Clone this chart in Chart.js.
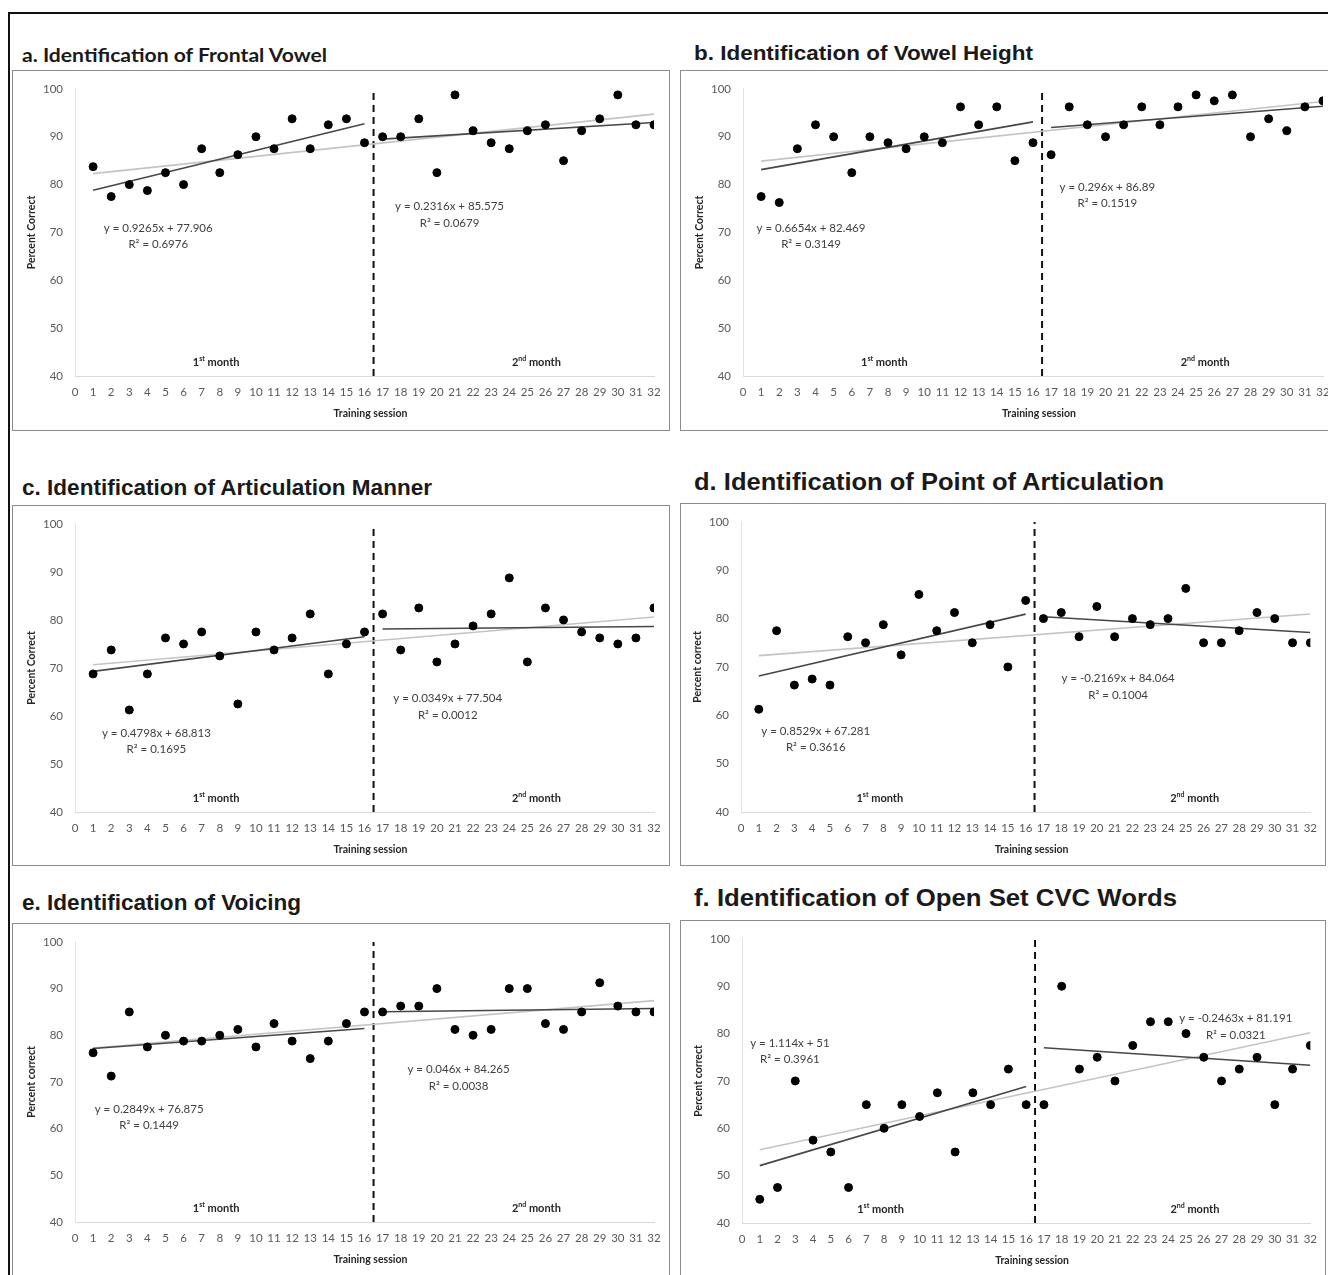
<!DOCTYPE html>
<html>
<head>
<meta charset="utf-8">
<script src="https://cdn.jsdelivr.net/npm/chart.js@4.4.1/dist/chart.umd.min.js"></script>
<style>
html, body { margin: 0; padding: 0; background: #fff; }
body { width: 1328px; height: 1275px; overflow: hidden; position: relative; }
.frame { position: absolute; left: 8px; top: 12px; width: 1400px; height: 1400px; border: 2px solid #111; box-sizing: border-box; }
.box { position: absolute; border: 1.5px solid #8c8c8c; box-sizing: border-box; }
.ttl { position: absolute; white-space: nowrap; font-weight: bold; color: #1a1a1a; transform-origin: 0 50%; }
canvas { position: absolute; }
</style>
</head>
<body>
<div class="frame"></div>
<script>
// training sessions (x axis)
const sessions = [1, 2, 3, 4, 5, 6, 7, 8, 9, 10, 11, 12, 13, 14, 15, 16,
                  17, 18, 19, 20, 21, 22, 23, 24, 25, 26, 27, 28, 29, 30, 31, 32];
const yTicks = [40, 50, 60, 70, 80, 90, 100];

// percent correct per session
const frontalVowel = [83.75, 77.5, 80, 78.75, 82.5, 80, 87.5, 82.5, 86.25, 90, 87.5, 93.75, 87.5, 92.5, 93.75, 88.75,
                      90, 90, 93.75, 82.5, 98.75, 91.25, 88.75, 87.5, 91.25, 92.5, 85, 91.25, 93.75, 98.75, 92.5, 92.5];
const vowelHeight = [77.5, 76.25, 87.5, 92.5, 90, 82.5, 90, 88.75, 87.5, 90, 88.75, 96.25, 92.5, 96.25, 85, 88.75,
                     86.25, 96.25, 92.5, 90, 92.5, 96.25, 92.5, 96.25, 98.75, 97.5, 98.75, 90, 93.75, 91.25, 96.25, 97.5];
const articulationManner = [68.75, 73.75, 61.25, 68.75, 76.25, 75, 77.5, 72.5, 62.5, 77.5, 73.75, 76.25, 81.25, 68.75, 75, 77.5,
                            81.25, 73.75, 82.5, 71.25, 75, 78.75, 81.25, 88.75, 71.25, 82.5, 80, 77.5, 76.25, 75, 76.25, 82.5];
const pointOfArticulation = [61.25, 77.5, 66.25, 67.5, 66.25, 76.25, 75, 78.75, 72.5, 85, 77.5, 81.25, 75, 78.75, 70, 83.75,
                             80, 81.25, 76.25, 82.5, 76.25, 80, 78.75, 80, 86.25, 75, 75, 77.5, 81.25, 80, 75, 75];
const voicing = [76.25, 71.25, 85, 77.5, 80, 78.75, 78.75, 80, 81.25, 77.5, 82.5, 78.75, 75, 78.75, 82.5, 85,
                 85, 86.25, 86.25, 90, 81.25, 80, 81.25, 90, 90, 82.5, 81.25, 85, 91.25, 86.25, 85, 85];
const cvcWords = [45, 47.5, 70, 57.5, 55, 47.5, 65, 60, 65, 62.5, 67.5, 55, 67.5, 65, 72.5, 65,
                  65, 90, 72.5, 75, 70, 77.5, 82.5, 82.5, 80, 75, 70, 72.5, 75, 65, 72.5, 77.5];

// monthly trend lines as printed: [slope, intercept]
const frontalVowelFit = [[0.9265, 77.906], [0.2316, 85.575]];
const vowelHeightFit = [[0.6654, 82.469], [0.296, 86.89]];
const articulationMannerFit = [[0.4798, 68.813], [0.0349, 77.504]];
const pointOfArticulationFit = [[0.8529, 67.281], [-0.2169, 84.064]];
const voicingFit = [[0.2849, 76.875], [0.046, 84.265]];
const cvcWordsFit = [[1.114, 51], [-0.2463, 81.191]];

const frontalVowelR2 = [0.6976, 0.0679];
const vowelHeightR2 = [0.3149, 0.1519];
const articulationMannerR2 = [0.1695, 0.0012];
const pointOfArticulationR2 = [0.3616, 0.1004];
const voicingR2 = [0.1449, 0.0038];
const cvcWordsR2 = [0.3961, 0.0321];

const monthLabels = [['1', 'st', ' month'], ['2', 'nd', ' month']];

// layout: box = [left, top, width, height], plot = [left, top, right, bottom] in page px
const panels = [
  { title: 'a. Identification of Frontal Vowel', font: 'Lato', fs: 19, tx: 22, ty: 54, tw: 305,
    box: [12, 70, 658, 361], plot: [75, 83, 654, 376], values: frontalVowel, fits: frontalVowelFit, r2: frontalVowelR2,
    yTitle: 'Percent Correct', eq: [[4.6, 70.9], [20.7, 75.4]] },
  { title: 'b. Identification of Vowel Height', font: 'Liberation Sans', fs: 21, tx: 694, ty: 52, tw: 339,
    box: [680, 70, 720, 361], plot: [743, 83, 1323, 376], values: vowelHeight, fits: vowelHeightFit, r2: vowelHeightR2,
    yTitle: 'Percent Correct', eq: [[3.75, 70.9], [20.1, 79.5]] },
  { title: 'c. Identification of Articulation Manner', font: 'Liberation Sans', fs: 22, tx: 22, ty: 488, tw: 410,
    box: [12, 505, 658, 361], plot: [75, 519, 654, 812], values: articulationManner, fits: articulationMannerFit, r2: articulationMannerR2,
    yTitle: 'Percent Correct', eq: [[4.5, 56.4], [20.6, 63.6]] },
  { title: 'd. Identification of Point of Articulation', font: 'Liberation Sans', fs: 24, tx: 694, ty: 482, tw: 470,
    box: [680, 503, 646, 363], plot: [741, 518, 1314, 812], values: pointOfArticulation, fits: pointOfArticulationFit, r2: pointOfArticulationR2,
    yTitle: 'Percent correct', eq: [[4.2, 56.7], [21.2, 67.6]] },
  { title: 'e. Identification of Voicing', font: 'Liberation Sans', fs: 22, tx: 22, ty: 903, tw: 279,
    box: [12, 923, 658, 400], plot: [75, 934, 654, 1222], values: voicing, fits: voicingFit, r2: voicingR2,
    yTitle: 'Percent correct', eq: [[4.1, 64.2], [21.2, 72.7]] },
  { title: 'f. Identification of Open Set CVC Words', font: 'Liberation Sans', fs: 23, tx: 694, ty: 898, tw: 483,
    box: [680, 920, 646, 400], plot: [742, 933, 1315, 1223], values: cvcWords, fits: cvcWordsFit, r2: cvcWordsR2,
    yTitle: 'Percent correct', eq: [[2.7, 78.0], [27.8, 83.2]] }
];

// least squares over all 32 sessions (the light grey overall trend)
function linFit(xs, ys) {
  const n = xs.length;
  let sx = 0, sy = 0, sxx = 0, sxy = 0;
  for (let i = 0; i < n; i++) { sx += xs[i]; sy += ys[i]; sxx += xs[i] * xs[i]; sxy += xs[i] * ys[i]; }
  const m = (n * sxy - sx * sy) / (n * sxx - sx * sx);
  return [m, (sy - m * sx) / n];
}

const annotate = {
  id: 'annotate',
  afterDatasetsDraw(chart, args, opts) {
    const p = opts.panel;
    const { ctx, chartArea: a } = chart;
    const x = chart.scales.x, y = chart.scales.y;
    ctx.save();
    // regression equations
    ctx.fillStyle = '#404040';
    ctx.font = '11.5px Lato';
    ctx.textAlign = 'center';
    ctx.textBaseline = 'middle';
    p.fits.forEach((f, i) => {
      const px = x.getPixelForValue(p.eq[i][0]);
      const py = y.getPixelForValue(p.eq[i][1]);
      ctx.fillText('y = ' + f[0] + 'x + ' + f[1], px, py);
      ctx.fillText('R\u00b2 = ' + p.r2[i], px, py + 16.5);
    });
    // month labels
    ctx.fillStyle = '#262626';
    ctx.textAlign = 'left';
    [7.8, 25.5].forEach((mx, i) => {
      const [n, sup, rest] = monthLabels[i];
      ctx.font = 'bold 11px Lato';
      const w1 = ctx.measureText(n).width, w3 = ctx.measureText(rest).width;
      ctx.font = 'bold 7px Lato';
      const w2 = ctx.measureText(sup).width;
      let px = x.getPixelForValue(mx) - (w1 + w2 + w3) / 2;
      const py = a.bottom - 14;
      ctx.font = 'bold 11px Lato';
      ctx.fillText(n, px, py);
      ctx.font = 'bold 7px Lato';
      ctx.fillText(sup, px + w1, py - 3);
      ctx.font = 'bold 11px Lato';
      ctx.fillText(rest, px + w1 + w2, py);
    });
    // axis titles
    ctx.textAlign = 'center';
    ctx.font = 'bold 10.5px Lato';
    ctx.fillText('Training session', (a.left + a.right) / 2 + 6, a.bottom + 38);
    ctx.translate(a.left - 43, (a.top + a.bottom) / 2);
    ctx.rotate(-Math.PI / 2);
    ctx.fillText(p.yTitle, 0, 0);
    ctx.restore();
  }
};

panels.forEach(p => {
  const [bx, by, bw, bh] = p.box;
  const [pl, pt, pr, pb] = p.plot;

  const box = document.createElement('div');
  box.className = 'box';
  Object.assign(box.style, { left: bx + 'px', top: by + 'px', width: bw + 'px', height: bh + 'px' });
  document.body.appendChild(box);

  const t = document.createElement('div');
  t.className = 'ttl';
  t.textContent = p.title;
  Object.assign(t.style, { left: p.tx + 'px', top: (p.ty - p.fs * 0.5) + 'px', fontFamily: p.font,
    fontSize: p.fs + 'px', lineHeight: p.fs + 'px' });
  document.body.appendChild(t);
  t.style.transform = 'scaleX(' + (p.tw / t.getBoundingClientRect().width) + ')';

  const cv = document.createElement('canvas');
  cv.width = bw; cv.height = bh;
  Object.assign(cv.style, { left: bx + 'px', top: by + 'px', width: bw + 'px', height: bh + 'px' });
  document.body.appendChild(cv);

  const yW = 50, xH = 30;
  const m1 = sessions.slice(0, 16), m2 = sessions.slice(16);
  const line = (f, xs) => xs.filter((v, i) => i === 0 || i === xs.length - 1).map(v => ({ x: v, y: f[0] * v + f[1] }));
  const all = linFit(sessions, p.values);

  new Chart(cv, {
    type: 'scatter',
    data: {
      datasets: [
        { data: sessions.map((s, i) => ({ x: s, y: p.values[i] })), backgroundColor: '#000', borderColor: '#000',
          pointRadius: 4, pointHoverRadius: 4 },
        { data: line(p.fits[0], m1), showLine: true, borderColor: '#474747', borderWidth: 1.6, pointRadius: 0 },
        { data: line(p.fits[1], m2), showLine: true, borderColor: '#474747', borderWidth: 1.6, pointRadius: 0 },
        { data: line(all, sessions), showLine: true, borderColor: '#c4c4c4', borderWidth: 1.6, pointRadius: 0 },
        { data: [{ x: 16.5, y: yTicks[0] }, { x: 16.5, y: yTicks[yTicks.length - 1] }], showLine: true,
          borderColor: '#111', borderWidth: 2, borderDash: [7, 5], pointRadius: 0 }
      ]
    },
    options: {
      responsive: false,
      animation: false,
      events: [],
      layout: { padding: { left: pl - bx - yW, top: pt - by, right: bx + bw - pr, bottom: by + bh - pb - xH } },
      plugins: { legend: { display: false }, tooltip: { enabled: false }, annotate: { panel: p } },
      scales: {
        x: {
          type: 'linear', min: 0, max: 32,
          afterFit: s => { s.height = xH; },
          grid: { display: false, drawTicks: false },
          border: { display: true, color: '#d9d9d9', width: 1 },
          ticks: { stepSize: 1, autoSkip: false, maxRotation: 0, padding: 9, color: '#595959', font: { family: 'Lato', size: 11.5 } }
        },
        y: {
          min: yTicks[0], max: yTicks[yTicks.length - 1],
          afterFit: s => { s.width = yW; },
          grid: { display: false, drawTicks: false },
          border: { display: true, color: '#e3e3e3', width: 1 },
          ticks: { stepSize: 10, padding: 12, color: '#595959', font: { family: 'Lato', size: 11.5 } }
        }
      }
    },
    plugins: [annotate]
  });
});
</script>
</body>
</html>
